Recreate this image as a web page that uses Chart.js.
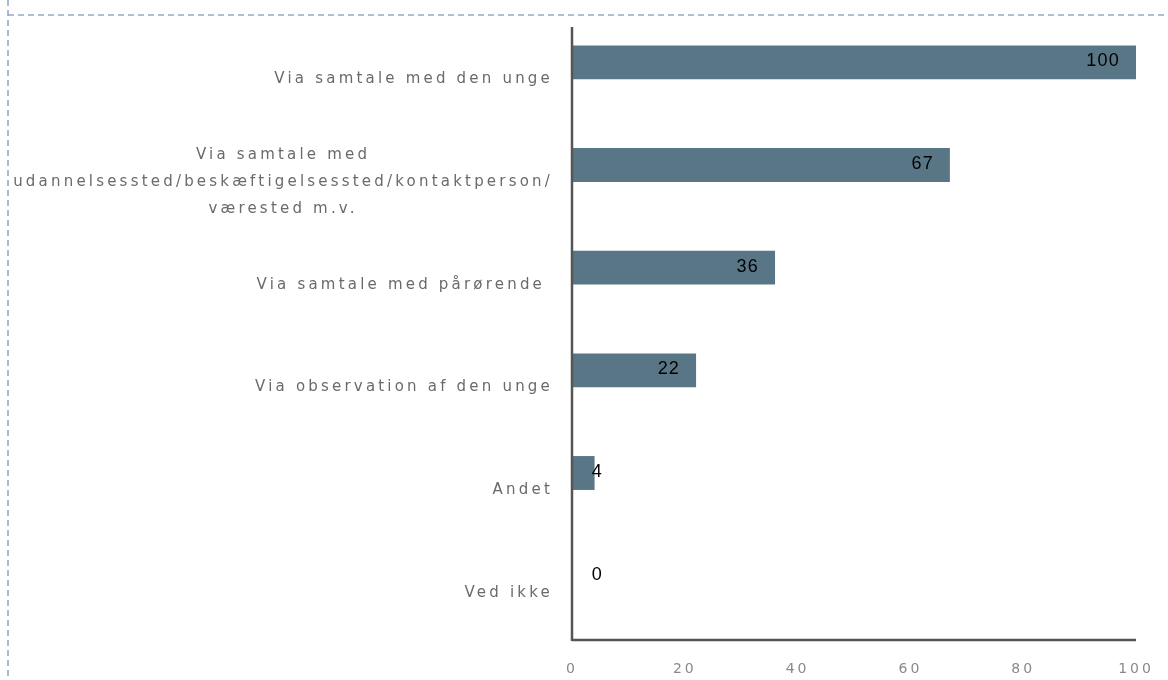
<!DOCTYPE html>
<html>
<head>
<meta charset="utf-8">
<script src="https://cdn.jsdelivr.net/npm/chart.js@4.4.1/dist/chart.umd.min.js"></script>
<style>
  html, body { margin: 0; padding: 0; background: #ffffff; }
  #wrap { width: 1168px; height: 680px; position: relative; }
</style>
</head>
<body>
<div id="wrap"><canvas id="c" width="1168" height="680"></canvas></div>
<script>
const categories = [
  ["Via samtale med den unge"],
  ["Via samtale med", "udannelsessted/beskæftigelsessted/kontaktperson/", "værested m.v."],
  ["Via samtale med pårørende "],
  ["Via observation af den unge"],
  ["Andet"],
  ["Ved ikke"]
];
const values = [100, 67, 36, 22, 4, 0];
const xTicks = [0, 20, 40, 60, 80, 100];

const BAR_COLOR = "#587686";

const framePlugin = {
  id: "frame",
  beforeDraw(chart) {
    const ctx = chart.ctx;
    ctx.save();
    ctx.strokeStyle = "#93a9c8";
    ctx.lineWidth = 1.6;
    ctx.setLineDash([6, 4]);
    ctx.beginPath();
    ctx.moveTo(8, 15); ctx.lineTo(1168, 15);
    ctx.moveTo(8, 0); ctx.lineTo(8, 680);
    ctx.stroke();
    ctx.restore();
    try { ctx.letterSpacing = "3px"; } catch (e) {}
  },
  afterDatasetsDraw(chart) {
    const ctx = chart.ctx;
    const xs = chart.scales.x, ys = chart.scales.y;
    const x0 = xs.getPixelForValue(0);
    const xEnd = xs.getPixelForValue(100);
    // axes
    ctx.save();
    ctx.strokeStyle = "#555555";
    ctx.lineWidth = 2.5;
    ctx.beginPath();
    ctx.moveTo(x0, 27); ctx.lineTo(x0, 641);
    ctx.moveTo(x0, 640); ctx.lineTo(xEnd, 640);
    ctx.stroke();
    ctx.restore();

    // value labels
    const meta = chart.getDatasetMeta(0);
    ctx.save();
    ctx.font = "18px 'Liberation Sans', Arial, sans-serif";
    ctx.fillStyle = "#000000";
    ctx.textAlign = "right";
    ctx.textBaseline = "middle";
    try { ctx.letterSpacing = "1.2px"; } catch (e) {}
    meta.data.forEach((bar, i) => {
      const x = Math.max(bar.x - 16, 603);
      ctx.fillText(String(values[i]), x, bar.y - 1);
    });
    ctx.restore();

    // category labels
    ctx.save();
    ctx.font = "15px 'DejaVu Sans', Verdana, sans-serif";
    ctx.fillStyle = "#6a6a6a";
    ctx.textBaseline = "middle";
    try { ctx.letterSpacing = "3.2px"; } catch (e) {}
    const right = 553;
    const lh = 27;
    categories.forEach((lines, i) => {
      const cy = ys.getPixelForValue(i) + 17;
      const widths = lines.map(l => ctx.measureText(l).width);
      const maxW = Math.max(...widths);
      const top = cy - (lines.length - 1) * lh / 2;
      lines.forEach((l, j) => {
        ctx.textAlign = "center";
        ctx.fillText(l, right - maxW / 2, top + j * lh);
      });
    });
    ctx.restore();
  }
};

new Chart(document.getElementById("c"), {
  type: "bar",
  data: {
    labels: categories.map(c => c.join(" ")),
    datasets: [{
      data: values,
      backgroundColor: BAR_COLOR,
      borderWidth: 0,
      barPercentage: 0.33,
      categoryPercentage: 1.0
    }]
  },
  options: {
    indexAxis: "y",
    responsive: false,
    animation: false,
    devicePixelRatio: 1,
    layout: { padding: { left: 572, right: 32, top: 11, bottom: 0 } },
    plugins: { legend: { display: false }, tooltip: { enabled: false } },
    scales: {
      y: {
        display: false,
        offset: true
      },
      x: {
        min: 0, max: 100,
        afterBuildTicks(scale) { scale.ticks = xTicks.map(v => ({ value: v })); },
        afterFit(scale) {
          scale.height = 53;
          scale.paddingLeft = 0;
          scale.paddingRight = 0;
        },
        grid: { display: false, drawTicks: false },
        border: { display: false },
        ticks: {
          padding: 34,
          maxRotation: 0,
          autoSkip: false,
          color: "#8a8a8a",
          font: { family: "'DejaVu Sans', Verdana, sans-serif", size: 14 }
        }
      }
    }
  },
  plugins: [framePlugin]
});
</script>
</body>
</html>
